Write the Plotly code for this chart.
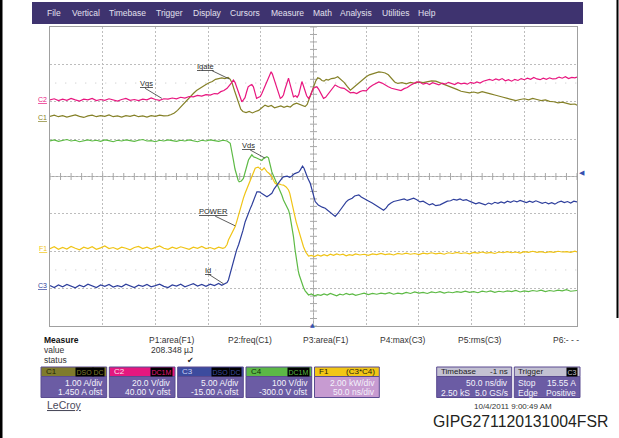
import numpy as np
import plotly.graph_objects as go

# ---------------- data (time in ns, amplitude in screen divisions) ----------------
VGS = [(-250,2.05),(-246,2.08),(-242,2.03),(-238,2.07),(-234,2.04),(-230,2.09),(-226,2.05),(-222,2.02),
       (-218,2.07),(-214,2.05),(-210,2.09),(-206,2.03),(-202,2.06),(-198,2.04),(-194,2.08),(-190,2.05),
       (-186,2.02),(-182,2.06),(-178,2.09),(-174,2.04),(-170,2.06),(-166,2.03),(-162,2.07),(-158,2.05),
       (-154,2.10),(-150,2.06),(-146,2.04),(-142,2.08),(-138,2.07),(-134,2.10),(-130,2.08),(-126,2.12),
       (-122,2.10),(-118,2.14),(-114,2.13),(-110,2.17),(-106,2.15),(-102,2.19),(-98,2.18),(-94,2.22),
       (-91,2.21),(-88,2.27),(-85,2.30),(-82,2.36),(-80,2.42),(-78,2.50),(-76,2.58),(-74.5,2.52),
       (-73,2.40),(-71.5,2.28),(-70,2.14),(-68,2.00),(-66.5,2.05),(-65,2.11),(-63.5,2.26),(-62,2.40),
       (-60,2.44),(-58.5,2.46),(-57,2.40),(-55.5,2.24),(-54,2.09),(-52,2.12),(-50.5,2.14),(-49,2.22),
       (-47.5,2.32),(-46,2.44),(-44,2.56),(-42,2.70),(-40.2,2.80),(-39,2.74),(-37.5,2.60),(-36,2.46),
       (-34.5,2.32),(-33,2.20),(-31.5,2.09),(-30,2.12),(-28.5,2.18),(-27,2.34),(-25.5,2.50),(-23.7,2.63),
       (-22.5,2.50),(-21,2.35),(-19,2.13),(-17,2.16),(-15.5,2.12),(-14,2.19),(-12.5,2.38),(-11,2.54),
       (-9.5,2.42),(-8,2.27),(-6.5,2.16),(-4.7,2.09),(-3,2.16),(-1.5,2.27),(0,2.36),(1.5,2.38),(3.2,2.40),
       (5,2.33),(6.5,2.24),(8,2.14),(9.5,2.09),(11.5,2.12),(14,2.21),(17,2.33),(20.5,2.45),(23,2.41),
       (26,2.37),(29,2.36),(32,2.30),(35,2.24),(38,2.25),(41,2.22),(44,2.27),(47,2.30),(50,2.29),
       (53,2.38),(56,2.44),(59,2.49),(62,2.53),(65,2.50),(68,2.44),(71,2.40),(74,2.36),(77,2.34),
       (80,2.31),(83,2.30),(86,2.35),(89,2.38),(92,2.44),(95,2.49),(98,2.53),(101,2.52),(104,2.47),
       (107,2.50),(110,2.46),(113,2.51),(116,2.48),(119,2.45),(122,2.50),(125,2.47),(128,2.52),
       (131,2.49),(134,2.46),(137,2.51),(140,2.48),(143,2.50),(146,2.47),(149,2.52),(152,2.49),
       (155,2.53),(158,2.50),(161,2.55),(164,2.57),(167,2.60),(170,2.57),(173,2.61),(176,2.58),
       (179,2.62),(182,2.56),(185,2.59),(188,2.55),(191,2.60),(194,2.57),(197,2.62),(200,2.59),
       (203,2.63),(206,2.60),(209,2.65),(212,2.61),(215,2.59),(218,2.63),(221,2.60),(224,2.64),
       (227,2.61),(230,2.62),(233,2.66),(236,2.63),(239,2.67),(242,2.62),(245,2.65),(248,2.64),(250,2.66)]

IGATE = [(-250,1.61),(-246,1.64),(-242,1.60),(-238,1.63),(-234,1.59),(-230,1.62),(-226,1.65),(-222,1.61),
         (-218,1.58),(-214,1.62),(-210,1.64),(-206,1.60),(-202,1.63),(-198,1.61),(-194,1.65),(-190,1.60),
         (-186,1.62),(-182,1.59),(-178,1.63),(-174,1.61),(-170,1.64),(-166,1.60),(-162,1.62),(-158,1.59),
         (-154,1.63),(-150,1.61),(-146,1.64),(-142,1.62),(-138,1.63),(-135,1.66),(-132,1.70),(-129,1.77),
         (-126,1.86),(-123,1.97),(-120,2.05),(-117,2.13),(-114,2.22),(-111,2.30),(-108,2.36),(-105,2.42),
         (-102,2.46),(-99,2.51),(-96,2.54),(-93,2.60),(-90,2.61),(-87,2.64),(-84,2.62),(-81,2.65),
         (-79,2.60),(-77,2.48),(-75,2.30),(-73,2.12),(-71,1.93),(-69,1.80),(-67,1.74),(-64,1.71),
         (-61,1.74),(-58,1.70),(-55,1.74),(-52,1.77),(-49,1.84),(-46,1.91),(-43,1.87),(-40,1.90),
         (-37,1.84),(-34,1.87),(-31,1.89),(-28,1.85),(-25,1.88),(-22,1.86),(-19,1.93),(-16,1.96),
         (-13,1.92),(-10,1.90),(-8,1.87),(-6,1.93),(-4,2.08),(-2,2.24),(0,2.40),(2,2.55),(4,2.64),
         (6,2.62),(8,2.57),(10,2.55),(12,2.60),(14,2.58),(17,2.62),(20,2.63),(23,2.67),(26,2.60),
         (29,2.52),(32,2.41),(35,2.31),(38,2.38),(41,2.45),(44,2.53),(47,2.61),(50,2.67),(53,2.72),
         (56,2.74),(59,2.78),(62,2.80),(65,2.79),(68,2.77),(71,2.72),(74,2.62),(77,2.53),(80,2.49),
         (84,2.51),(88,2.48),(92,2.52),(96,2.49),(100,2.53),(104,2.51),(108,2.54),(112,2.56),(116,2.55),
         (120,2.51),(124,2.46),(128,2.43),(132,2.37),(136,2.33),(140,2.28),(144,2.27),(148,2.24),
         (152,2.26),(156,2.23),(160,2.27),(164,2.25),(168,2.21),(172,2.18),(176,2.16),(180,2.12),
         (184,2.09),(188,2.05),(192,2.03),(196,2.06),(200,2.08),(204,2.05),(208,2.09),(212,2.06),
         (216,2.03),(220,2.05),(224,2.01),(228,2.00),(232,1.97),(236,1.99),(240,1.96),(244,1.93),
         (248,1.94),(250,1.91)]

VDS = [(-250,0.95),(-246,0.98),(-242,0.94),(-238,0.97),(-234,0.99),(-230,0.95),(-226,0.97),(-222,0.93),
       (-218,0.96),(-214,0.98),(-210,0.95),(-206,0.97),(-202,0.94),(-198,0.98),(-194,0.96),(-190,0.93),
       (-186,0.97),(-182,0.95),(-178,0.98),(-174,0.96),(-170,0.94),(-166,0.97),(-162,0.99),(-158,0.95),
       (-154,0.96),(-150,0.93),(-146,0.97),(-142,0.95),(-138,0.98),(-134,0.96),(-130,0.94),(-126,0.97),
       (-122,0.95),(-118,0.98),(-114,0.96),(-110,0.93),(-106,0.97),(-102,0.95),(-98,0.98),(-94,0.96),
       (-90,0.94),(-86,0.97),(-82,0.95),(-79,0.89),(-77.5,0.70),(-76,0.44),(-74.5,0.20),(-72.7,-0.01),
       (-71.5,-0.10),(-70.5,-0.14),(-68.5,-0.12),(-66.5,-0.05),(-64,0.20),(-61.7,0.44),(-60,0.52),
       (-58.5,0.58),(-57,0.53),(-55.3,0.52),(-53.5,0.49),(-52,0.47),(-50.5,0.45),(-49,0.43),(-47.5,0.48),
       (-46,0.50),(-44.2,0.53),(-42.7,0.50),(-41.1,0.26),(-39.5,0.12),(-38.3,0.04),(-36.5,-0.07),
       (-34.7,-0.18),(-33,-0.27),(-31.6,-0.36),(-30,-0.50),(-28.5,-0.63),(-26,-0.76),(-23.7,-0.90),
       (-22.5,-1.02),(-21.2,-1.22),(-20,-1.42),(-19,-1.61),(-17.5,-1.96),(-15.8,-2.32),(-14.5,-2.52),
       (-13.6,-2.63),(-12.3,-2.76),(-11,-2.86),(-9.5,-2.97),(-7.9,-3.06),(-6,-3.13),(-4.7,-3.17),
       (-2,-3.14),(1,-3.19),(4,-3.16),(7,-3.18),(10,-3.14),(13,-3.17),(16,-3.13),(19,-3.16),(22,-3.19),
       (25,-3.15),(28,-3.17),(31,-3.13),(34,-3.16),(37,-3.14),(40,-3.18),(44,-3.15),(48,-3.12),
       (52,-3.16),(56,-3.13),(60,-3.15),(64,-3.12),(68,-3.14),(72,-3.11),(76,-3.15),(80,-3.12),
       (84,-3.14),(88,-3.10),(92,-3.13),(96,-3.09),(100,-3.12),(104,-3.10),(108,-3.13),(112,-3.09),
       (116,-3.11),(120,-3.08),(124,-3.12),(128,-3.09),(132,-3.11),(136,-3.08),(140,-3.10),(144,-3.07),
       (148,-3.10),(152,-3.08),(156,-3.11),(160,-3.07),(164,-3.09),(168,-3.06),(172,-3.10),(176,-3.07),
       (180,-3.09),(184,-3.06),(188,-3.08),(192,-3.05),(196,-3.09),(200,-3.06),(204,-3.08),(208,-3.05),
       (212,-3.07),(216,-3.04),(220,-3.08),(224,-3.05),(228,-3.07),(232,-3.04),(236,-3.06),(240,-3.03),
       (244,-3.07),(248,-3.05),(250,-3.05)]

POWER = [(-250,-1.93),(-246,-1.88),(-242,-1.95),(-238,-1.90),(-234,-1.94),(-230,-1.87),(-226,-1.92),
         (-222,-1.96),(-218,-1.89),(-214,-1.93),(-210,-1.88),(-206,-1.95),(-202,-1.91),(-198,-1.86),
         (-194,-1.93),(-190,-1.90),(-186,-1.95),(-182,-1.89),(-178,-1.92),(-174,-1.96),(-170,-1.90),
         (-166,-1.87),(-162,-1.93),(-158,-1.89),(-154,-1.94),(-150,-1.90),(-146,-1.86),(-142,-1.92),
         (-138,-1.95),(-134,-1.89),(-130,-1.93),(-126,-1.88),(-122,-1.91),(-118,-1.95),(-114,-1.89),
         (-110,-1.92),(-106,-1.87),(-102,-1.93),(-98,-1.90),(-94,-1.94),(-90,-1.89),(-86,-1.92),
         (-84,-1.90),(-82,-1.82),(-80.7,-1.70),(-78,-1.54),(-76,-1.45),(-74.3,-1.34),(-72.8,-1.20),
         (-71.5,-1.06),(-70,-0.90),(-68,-0.72),(-66.5,-0.58),(-64.8,-0.44),(-62.5,-0.27),(-60,-0.09),
         (-58.5,0.02),(-57.3,0.10),(-55.3,0.22),(-53.8,0.24),(-52.5,0.25),(-50.8,0.21),(-49,0.17),
         (-47.8,0.20),(-46.8,0.23),(-45.5,0.18),(-44.2,0.13),(-42,0.08),(-39.5,-0.01),(-38,-0.10),
         (-36.4,-0.18),(-34.5,-0.21),(-32.6,-0.20),(-30.5,-0.22),(-28.5,-0.23),(-26,-0.28),(-23.7,-0.36),
         (-22.5,-0.45),(-21.6,-0.58),(-20.3,-0.74),(-19,-0.90),(-17.7,-1.06),(-16.4,-1.22),(-15.2,-1.33),
         (-14.2,-1.43),(-13,-1.57),(-11.7,-1.70),(-10.5,-1.80),(-9.5,-1.88),(-7.4,-2.02),(-4.7,-2.13),
         (-2,-2.11),(1,-2.14),(4,-2.10),(7,-2.13),(10,-2.09),(13,-2.12),(16,-2.08),(19,-2.11),(22,-2.07),
         (25,-2.10),(28,-2.08),(31,-2.12),(34,-2.09),(37,-2.11),(40,-2.07),(44,-2.10),(48,-2.08),
         (52,-2.11),(56,-2.07),(60,-2.09),(64,-2.06),(68,-2.09),(72,-2.07),(76,-2.10),(80,-2.06),
         (84,-2.08),(88,-2.05),(92,-2.08),(96,-2.06),(100,-2.09),(104,-2.05),(108,-2.07),(112,-2.04),
         (116,-2.07),(120,-2.05),(124,-2.08),(128,-2.04),(132,-2.06),(136,-2.03),(140,-2.06),(144,-2.04),
         (148,-2.07),(152,-2.03),(156,-2.05),(160,-2.02),(164,-2.05),(168,-2.03),(172,-2.06),(176,-2.02),
         (180,-2.04),(184,-2.01),(188,-2.04),(192,-2.02),(196,-2.05),(200,-2.01),(204,-2.03),(208,-2.00),
         (212,-2.03),(216,-2.01),(220,-2.04),(224,-2.01),(228,-2.03),(232,-2.00),(236,-2.02),(240,-2.01),
         (244,-2.03),(248,-2.00),(250,-2.02)]

ID = [(-250,-2.92),(-246,-2.97),(-242,-2.90),(-238,-2.95),(-234,-2.89),(-230,-2.94),(-226,-2.98),
      (-222,-2.91),(-218,-2.95),(-214,-2.88),(-210,-2.93),(-206,-2.97),(-202,-2.90),(-198,-2.94),
      (-194,-2.89),(-190,-2.96),(-186,-2.92),(-182,-2.95),(-178,-2.88),(-174,-2.93),(-170,-2.97),
      (-166,-2.91),(-162,-2.94),(-158,-2.89),(-154,-2.95),(-150,-2.92),(-146,-2.88),(-142,-2.94),
      (-138,-2.97),(-134,-2.90),(-130,-2.93),(-126,-2.88),(-122,-2.95),(-118,-2.91),(-114,-2.87),
      (-110,-2.93),(-106,-2.89),(-102,-2.94),(-98,-2.88),(-94,-2.92),(-90,-2.86),(-87,-2.91),(-84,-2.88),
      (-82,-2.84),(-80.7,-2.77),(-78.6,-2.55),(-76,-2.23),(-73,-1.97),(-71,-1.82),(-69.6,-1.70),
      (-67,-1.45),(-64.8,-1.21),(-62,-0.98),(-60,-0.86),(-58.5,-0.76),(-56.3,-0.58),(-53.7,-0.41),
      (-51.5,-0.41),(-49,-0.45),(-46.8,-0.50),(-44.2,-0.54),(-42,-0.50),(-39.5,-0.45),(-37.3,-0.33),
      (-34.7,-0.23),(-33,-0.16),(-31.6,-0.09),(-30,-0.05),(-28.5,-0.01),(-25,0.01),(-22.5,-0.02),
      (-20.5,0.01),(-18.3,0.07),(-15.8,0.09),(-14,0.12),(-12.6,0.17),(-11.3,0.22),(-10.4,0.28),
      (-9,0.22),(-7.9,0.13),(-5.5,-0.04),(-3.1,-0.18),(-0.8,-0.41),(1.6,-0.67),(4.5,-0.76),(6.5,-0.80),
      (8.3,-0.82),(11.1,-0.85),(13.5,-0.91),(15.9,-0.95),(18.3,-1.03),(20.6,-1.07),(23,-0.99),
      (25.3,-0.90),(28.5,-0.76),(31,-0.68),(33,-0.63),(36.7,-0.58),(39,-0.52),(41.2,-0.50),(43,-0.49),
      (45.3,-0.55),(48,-0.60),(50.7,-0.63),(53,-0.67),(55.7,-0.71),(58.5,-0.76),(61.4,-0.82),(64,-0.86),
      (66.5,-0.90),(69,-0.84),(71,-0.76),(73.5,-0.71),(76,-0.67),(79,-0.65),(82.3,-0.63),(86,-0.60),
      (89,-0.64),(92,-0.61),(95,-0.58),(98,-0.62),(101,-0.68),(104,-0.66),(107,-0.72),(110,-0.76),
      (113,-0.73),(116,-0.78),(120,-0.76),(124,-0.71),(127,-0.66),(130,-0.65),(133,-0.61),(136,-0.63),
      (139,-0.60),(142,-0.64),(145,-0.62),(148,-0.66),(151,-0.69),(154,-0.73),(157,-0.70),(160,-0.74),
      (163,-0.76),(166,-0.71),(169,-0.74),(172,-0.69),(175,-0.72),(178,-0.68),(181,-0.71),(184,-0.66),
      (187,-0.69),(190,-0.65),(193,-0.68),(196,-0.64),(199,-0.67),(202,-0.70),(205,-0.66),(208,-0.69),
      (211,-0.65),(214,-0.68),(217,-0.72),(220,-0.69),(223,-0.73),(226,-0.70),(229,-0.74),(232,-0.69),
      (235,-0.66),(238,-0.70),(241,-0.67),(244,-0.71),(247,-0.66),(250,-0.68)]

MENU_ITEMS = ["File", "Vertical", "Timebase", "Trigger", "Display", "Cursors", "Measure",
              "Math", "Analysis", "Utilities", "Help"]
PARAM_LABELS = ["P1:area(F1)", "P2:freq(C1)", "P3:area(F1)", "P4:max(C3)", "P5:rms(C3)", "P6:- - -"]
P1_VALUE = "208.348 µJ"
CHANNELS = [
    ("C1", ["DSO", "DC"], "1.00 A/div", "1.450 A ofst"),
    ("C2", ["DC1M"], "20.0 V/div", "40.00 V ofst"),
    ("C3", ["DSO", "DC"], "5.00 A/div", "-15.00 A ofst"),
    ("C4", ["DC1M"], "100 V/div", "-300.0 V ofst"),
    ("F1", ["(C3*C4)"], "2.00 kW/div", "50.0 ns/div"),
]
TIMEBASE = ("Timebase", "-1 ns", "50.0 ns/div", "2.50 kS", "5.0 GS/s")
TRIGGER = ("Trigger", "C3", "Stop", "15.55 A", "Edge", "Positive")
DATE_TEXT = "10/4/2011 9:00:49 AM"
CAPTION = "GIPG271120131004FSR"

# ---------------- styling ----------------
FONT = "Liberation Sans, Arial, sans-serif"
COL = {"C1": "#858128", "C2": "#e8167f", "C3": "#2e3f9c", "C4": "#5dba45", "F1": "#f0c416"}
HEAD = {"C1": "#7f7b2d", "C2": "#e4187f", "C3": "#3c4b9e", "C4": "#5cb846", "F1": "#f1c616"}
HEAD_TXT = {"C1": "#1f1f08", "C2": "#fde0ee", "C3": "#c9d2f7", "C4": "#10300a", "F1": "#262010"}
BODY = "#6b5ca4"

W, H = 619, 438
L, R, T, B = 50, 42, 27, 112
PW, PH = W - L - R, H - T - B


def px(x):
    return (x - L) / PW


def py(y):
    return (H - B - y) / PH


fig = go.Figure()


def add_trace(pairs, color):
    t, v = zip(*pairs)
    fig.add_trace(go.Scatter(x=list(t), y=list(v), mode="lines",
                             line=dict(color=color, width=1.2), hoverinfo="skip", showlegend=False))


# center graticule ticks
tx = np.arange(-250, 251, 10)
fig.add_trace(go.Scatter(x=tx, y=np.zeros_like(tx), mode="markers",
                         marker=dict(symbol="line-ns", size=5, line=dict(color="#a8a8a8", width=1)),
                         hoverinfo="skip", showlegend=False))
ty = np.arange(-4, 4.01, 0.2)
fig.add_trace(go.Scatter(x=np.zeros_like(ty), y=ty, mode="markers",
                         marker=dict(symbol="line-ew", size=5, line=dict(color="#a8a8a8", width=1)),
                         hoverinfo="skip", showlegend=False))

add_trace(IGATE, COL["C1"])
add_trace(VGS, COL["C2"])
add_trace(VDS, COL["C4"])
add_trace(POWER, COL["F1"])
add_trace(ID, COL["C3"])

shapes = []
ann = []

# center solid lines and dotted reference lines
shapes.append(dict(type="line", xref="x", yref="y", x0=0, x1=0, y0=-4, y1=4,
                   line=dict(color="#a8a8a8", width=1), layer="below"))
shapes.append(dict(type="line", xref="x", yref="y", x0=-250, x1=250, y0=0, y1=0,
                   line=dict(color="#a8a8a8", width=1), layer="below"))
for lv in (2.5, -2.5):
    shapes.append(dict(type="line", xref="x", yref="y", x0=-245, x1=250, y0=lv, y1=lv,
                       line=dict(color="#c4c4c4", width=1, dash="1px,9px"), layer="below"))

# trace labels with leader lines (data coords)
labels = [("Vgs", -158.8, 2.48, (-159.8, 2.36), (-143.9, 2.09)),
          ("Igate", -102.8, 2.94, (-96.2, 2.83), (-80, 2.61)),
          ("Vds", -62, 0.84, (-60.1, 0.71), (-45.9, 0.49)),
          ("POWER", -94.9, -0.94, (-93.3, -1.06), (-74.3, -1.32)),
          ("Id", -100.4, -2.51, (-99.7, -2.61), (-85.4, -2.87))]
for txt, lx, ly, p0, p1 in labels:
    ann.append(dict(x=lx, y=ly, xref="x", yref="y", text="<u>%s</u>" % txt, showarrow=False,
                    font=dict(family=FONT, size=7.5, color="#2a2a2a")))
    shapes.append(dict(type="line", xref="x", yref="y", x0=p0[0], y0=p0[1], x1=p1[0], y1=p1[1],
                       line=dict(color="#333333", width=0.8)))

# channel ground markers at left
for name, yy in (("C2", 2.05), ("C1", 1.59), ("F1", -1.92), ("C3", -2.92)):
    ann.append(dict(x=px(48.5), y=yy, xref="paper", yref="y", text="<u>%s</u>" % name, showarrow=False,
                    xanchor="right", yanchor="middle", font=dict(family=FONT, size=7, color=COL[name])))

# trigger markers
ann.append(dict(x=px(577), y=0.1, xref="paper", yref="y", text="◀", showarrow=False, xanchor="left",
                font=dict(family="DejaVu Sans", size=7, color="#3550b0")))
ann.append(dict(x=-1, y=py(330), xref="x", yref="paper", text="▲", showarrow=False,
                font=dict(family="DejaVu Sans", size=6, color="#3550b0")))

# page borders
shapes.append(dict(type="rect", xref="paper", yref="paper", x0=px(0), x1=px(2.5), y0=py(438), y1=py(0),
                   fillcolor="#000000", line=dict(width=0)))
shapes.append(dict(type="rect", xref="paper", yref="paper", x0=px(616.5), x1=px(618.5), y0=py(318), y1=py(0),
                   fillcolor="#000000", line=dict(width=0)))

# menu bar
shapes.append(dict(type="rect", xref="paper", yref="paper", x0=px(32), x1=px(583), y0=py(24), y1=py(2),
                   fillcolor="#3e336f", line=dict(width=0)))
menu_x = [44.6, 69.9, 106.6, 154, 190.7, 228, 268.5, 311, 338.3, 379.8, 415.7]
for mx, item in zip(menu_x, MENU_ITEMS):
    ann.append(dict(x=px(mx), y=py(13.3), xref="paper", yref="paper", text=item, showarrow=False,
                    xanchor="left", yanchor="middle", font=dict(family=FONT, size=8.5, color="#e2e0ee")))

# measure panel


def text_at(x, y, s, anchor="left", size=8.5, color="#222222", family=FONT):
    ann.append(dict(x=px(x), y=py(y), xref="paper", yref="paper", text=s, showarrow=False,
                    xanchor=anchor, yanchor="middle", font=dict(family=family, size=size, color=color)))


text_at(41.5, 339.5, "<b>Measure</b>", size=8.5, color="#111111")
text_at(41.5, 349.5, "value", size=8.5, color="#333333")
text_at(41.5, 360, "status", size=8.5, color="#333333")
param_x = [172, 249.5, 326, 403, 480, 566]
for xx, s in zip(param_x, PARAM_LABELS):
    text_at(xx, 339.5, s, anchor="center", color="#333333")
text_at(194.5, 349.5, P1_VALUE, anchor="right", color="#333333")
text_at(190, 360, "✔", anchor="center", size=8, color="#222222", family="DejaVu Sans")

# channel boxes
box_x = [(41, 106.7), (109.3, 175), (177.7, 243.3), (246, 311.7), (314.5, 379.3)]
top, mid, bot = 367, 376.5, 397.5
for (x0, x1), (name, badges, r1, r2) in zip(box_x, CHANNELS):
    body = "#c79bd1" if name == "F1" else BODY
    shapes.append(dict(type="rect", xref="paper", yref="paper", x0=px(x0), x1=px(x1), y0=py(bot), y1=py(mid),
                       fillcolor=body, line=dict(color="#5a4b90", width=1)))
    shapes.append(dict(type="rect", xref="paper", yref="paper", x0=px(x0), x1=px(x1), y0=py(mid), y1=py(top),
                       fillcolor=HEAD[name], line=dict(color="#5a4b90", width=1)))
    text_at(x0 + 2.5, (top + mid) / 2, name, size=8, color=HEAD_TXT[name])
    if name == "F1":
        text_at(x1 - 2, (top + mid) / 2, badges[0], anchor="right", size=8, color="#262010")
    else:
        xr = x1 - 1.8
        for bdg in reversed(badges):
            ann.append(dict(x=px(xr), y=py((top + mid) / 2), xref="paper", yref="paper", text=bdg,
                            showarrow=False, xanchor="right", yanchor="middle", bgcolor="#000000",
                            borderpad=0.5, font=dict(family=FONT, size=7, color=HEAD[name])))
            xr -= 4.9 * len(bdg) + 1.5
    text_at(x1 - 2, 382.5, r1, anchor="right", size=8.5, color="#f4f2fb")
    text_at(x1 - 2, 392, r2, anchor="right", size=8.5, color="#f4f2fb")

# timebase & trigger boxes
for (x0, x1) in ((436.7, 511.7), (514.3, 580)):
    shapes.append(dict(type="rect", xref="paper", yref="paper", x0=px(x0), x1=px(x1), y0=py(bot), y1=py(mid),
                       fillcolor=BODY, line=dict(color="#5a4b90", width=1)))
    shapes.append(dict(type="rect", xref="paper", yref="paper", x0=px(x0), x1=px(x1), y0=py(mid), y1=py(top),
                       fillcolor="#c3c1d2", line=dict(color="#5a4b90", width=1)))
hy = (top + mid) / 2
text_at(438.5, hy, TIMEBASE[0], size=8, color="#222222")
text_at(510, hy, TIMEBASE[1], anchor="right", size=8, color="#222222")
text_at(510, 382.5, TIMEBASE[2], anchor="right", color="#f4f2fb")
text_at(438.5, 392.5, TIMEBASE[3], color="#f4f2fb")
text_at(510, 392.5, TIMEBASE[4], anchor="right", color="#f4f2fb")
text_at(516, hy, TRIGGER[0], size=8, color="#222222")
ann.append(dict(x=px(578.2), y=py(hy), xref="paper", yref="paper", text=TRIGGER[1], showarrow=False,
                xanchor="right", yanchor="middle", bgcolor="#000000", borderpad=0.5,
                font=dict(family=FONT, size=7, color="#c3c1d2")))
text_at(516, 382.5, TRIGGER[2], color="#f4f2fb")
text_at(578, 382.5, TRIGGER[3], anchor="right", color="#f4f2fb")
text_at(516, 392.5, TRIGGER[4], color="#f4f2fb")
text_at(578, 392.5, TRIGGER[5], anchor="right", color="#f4f2fb")

text_at(553.5, 406, DATE_TEXT, anchor="right", size=8, color="#333333")
text_at(45, 405, "<u>LeCroy</u>", size=10.5, color="#4b4b5c")
text_at(610, 421.5, CAPTION, anchor="right", size=15.8, color="#231f20")

fig.update_layout(
    width=W, height=H,
    margin=dict(l=L, r=R, t=T, b=B, pad=0),
    paper_bgcolor="#ffffff", plot_bgcolor="#ffffff",
    showlegend=False,
    shapes=shapes, annotations=ann,
    xaxis=dict(range=[-250, 250], dtick=50, tick0=0, showticklabels=False, ticks="",
               showgrid=True, gridcolor="#bdbdbd", griddash="2px,2px", gridwidth=1,
               zeroline=False, showline=True, linecolor="#a0a0a0", linewidth=1, mirror=True, fixedrange=True),
    yaxis=dict(range=[-4, 4], dtick=1, tick0=0, showticklabels=False, ticks="",
               showgrid=True, gridcolor="#bdbdbd", griddash="2px,2px", gridwidth=1,
               zeroline=False, showline=True, linecolor="#a0a0a0", linewidth=1, mirror=True, fixedrange=True),
)

fig.write_html("out.html", config={"displayModeBar": False},
               post_script="document.body.style.margin='0';document.body.style.padding='0';")
